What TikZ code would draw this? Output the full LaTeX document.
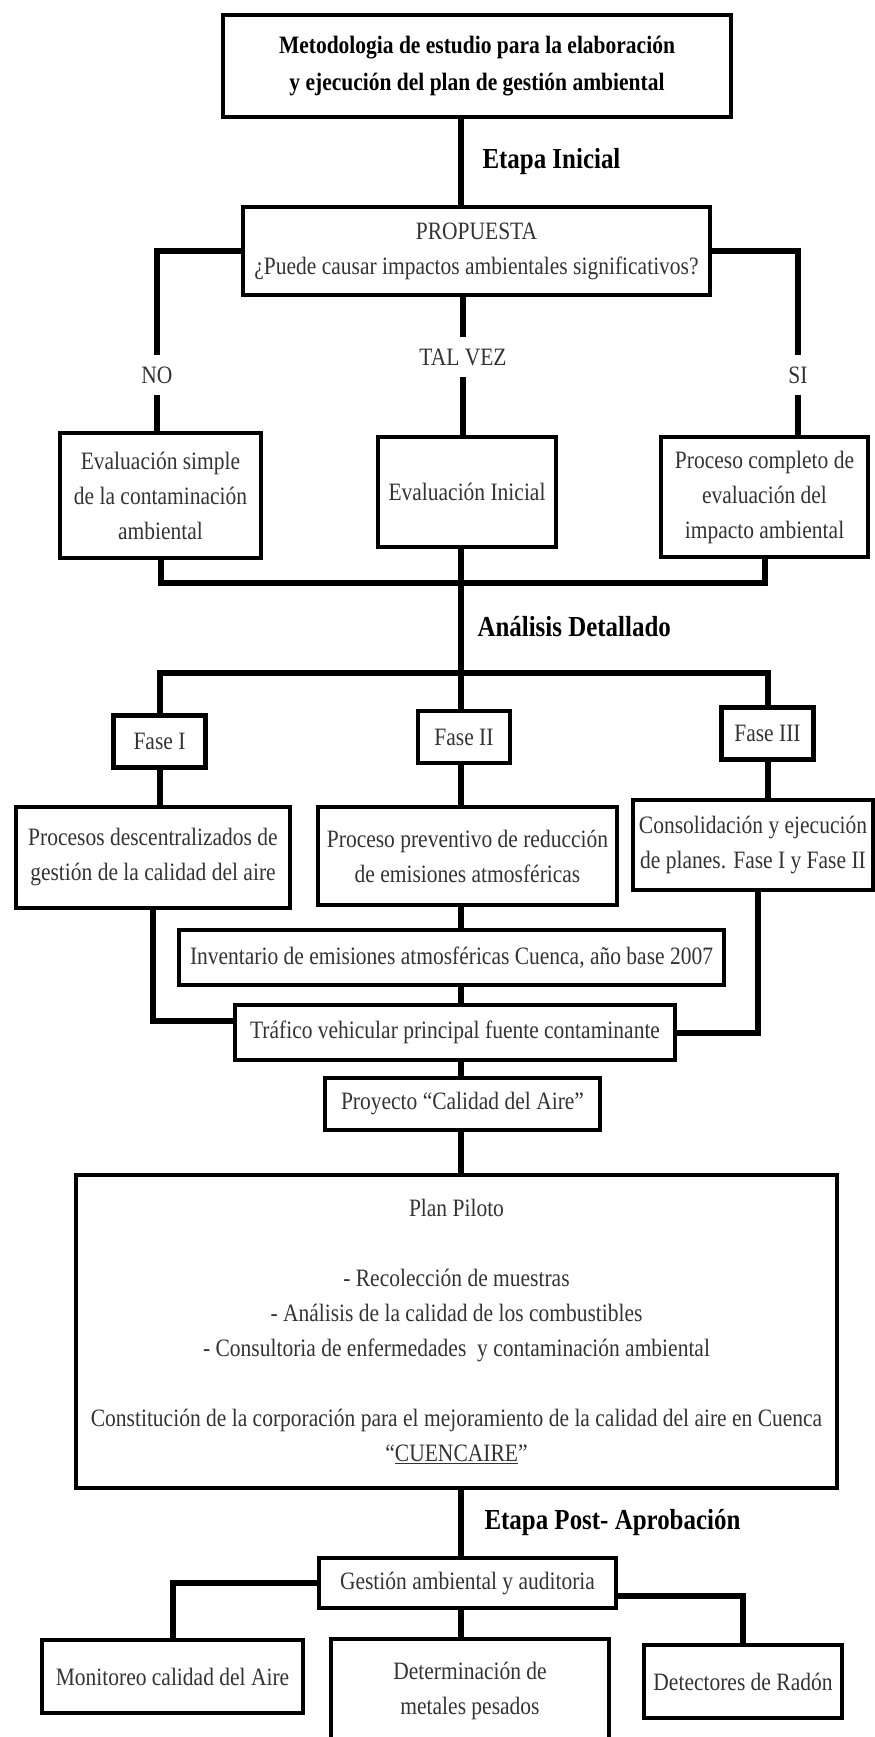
\documentclass[tikz,border=0pt]{standalone}
\usepackage{fontspec}
\setmainfont{Liberation Serif}[FakeStretch=0.86]
\usepackage{tikz}

\begin{document}
\begin{tikzpicture}[x=1pt,y=-1pt, %[x=0.03cm,y=-0.03cm]
box/.style={draw, line width=4.5pt, inner sep=0pt, align=center, text=black!80, font=\fontsize{25}{35}\selectfont},
conn/.style={line width=6pt},
etapa/.style={anchor=west, font=\fontsize{29}{35}\selectfont\bfseries},
rama/.style={inner sep=0pt, minimum height=40, text=black!80, font=\fontsize{25}{35}\selectfont}]
\useasboundingbox (0,0) rectangle (875,1737);
\clip (0,0) rectangle (875,1737);
\coordinate (axis) at (461,0);
\coordinate (coll) at (461,583);
\coordinate (fbar) at (461,673);

\node[box, text=black, font=\fontsize{25}{37}\selectfont\bfseries, minimum width=508, minimum height=102] (title) at (477,66) {Metodologia de estudio para la elaboración\\ y ejecución del plan de gestión ambiental};
\node[box, minimum width=467, minimum height=88] (prop) at (476.5,251) {PROPUESTA\\ ¿Puede causar impactos ambientales significativos?};
\draw[conn] (title.south -| axis) -- (prop.north -| axis);
\node[etapa] at (479,162) {Etapa Inicial};

\node[rama] (no) at (157,375) {NO};
\node[rama] (talvez) at (463,357) {TAL VEZ};
\node[rama] (si) at (798,375) {SI};
\node[box, minimum width=201, minimum height=125] (evsimple) at (160.5,495.5) {Evaluación simple\\ de la contaminación\\ ambiental};
\node[box, minimum width=178, minimum height=110] (evinicial) at (467,492) {Evaluación Inicial};
\node[box, minimum width=207, minimum height=120] (evcompleta) at (764.5,497) {Proceso completo de\\ evaluación del\\ impacto ambiental};
\draw[conn] (prop.west) -| (no.north);
\draw[conn] (prop.east) -| (si.north);
\draw[conn] (prop.south -| talvez) -- (talvez.north);
\draw[conn] (no.south) -- (no.south |- evsimple.north);
\draw[conn] (talvez.south) -- (talvez.south |- evinicial.north);
\draw[conn] (si.south) -- (si.south |- evcompleta.north);
\draw[conn] (evsimple.south) |- (coll) -| (evcompleta.south);
\draw[conn] (evinicial.south -| axis) -- (fbar);
\node[etapa] at (474,627) {Análisis Detallado};

\foreach \n/\x/\y/\t in {f1/159.5/741.5/Fase I, f2/464/737/Fase II, f3/767.5/733.5/Fase III} {
\node[box, minimum width=92, minimum height=52] (\n) at (\x,\y) {\t};
}
\draw[conn] (f1.north) |- (fbar) -| (f3.north);
\draw[conn] (fbar) -- (f2.north -| axis);

\node[box, minimum width=274, minimum height=101] (descentral) at (153,857.5) {Procesos descentralizados de\\ gestión de la calidad del aire};
\node[box, minimum width=299, minimum height=98] (preventivo) at (467.5,856) {Proceso preventivo de reducción\\ de emisiones atmosféricas};
\node[box, minimum width=240, minimum height=90] (consolida) at (753,845) {Consolidación y ejecución\\ de planes. Fase I y Fase II};
\node[box, minimum width=545, minimum height=55] (inventario) at (451.5,957.5) {Inventario de emisiones atmosféricas Cuenca, año base 2007};
\node[box, minimum width=440, minimum height=55] (trafico) at (455,1032.5) {Tráfico vehicular principal fuente contaminante};
\draw[conn] (f1.south) -- (f1.south |- descentral.north);
\draw[conn] (f2.south -| axis) -- (preventivo.north -| axis);
\draw[conn] (f3.south) -- (f3.south |- consolida.north);
\draw[conn] (preventivo.south -| axis) -- (inventario.north -| axis);
\draw[conn] (inventario.south -| axis) -- (trafico.north -| axis);
\draw[conn] (descentral.south) |- ([yshift=12pt]trafico.west);
\draw[conn] ([xshift=5pt]consolida.south) |- (trafico.east);

\node[box, minimum width=275, minimum height=52] (proyecto) at (462.5,1104) {Proyecto “Calidad del Aire”};
\node[box, minimum width=761, minimum height=313] (plan) at (456.5,1331.5) {Plan Piloto\\[35pt]
- Recolección de muestras\\
- Análisis de la calidad de los combustibles\\
- Consultoria de enfermedades~ y contaminación ambiental\\[35pt]
Constitución de la corporación para el mejoramiento de la calidad del aire en Cuenca\\
“\underline{CUENCAIRE}”};
\draw[conn] (trafico.south -| axis) -- (proyecto.north -| axis);
\draw[conn] (proyecto.south -| axis) -- (plan.north -| axis);

\node[box, minimum width=297, minimum height=50] (gestion) at (467.5,1583) {Gestión ambiental y auditoria};
\node[box, minimum width=261, minimum height=73] (monitoreo) at (172.5,1676.5) {Monitoreo calidad del Aire};
\node[box, minimum width=278, minimum height=104] (metales) at (470,1691) {Determinación de\\ metales pesados};
\node[box, minimum width=198, minimum height=73] (radon) at (743,1681.5) {Detectores de Radón};
\draw[conn] (plan.south -| axis) -- (gestion.north -| axis);
\node[etapa] at (481,1522) {Etapa Post- Aprobación};
\draw[conn] (gestion.west) -| (monitoreo.north);
\draw[conn] ([yshift=-13pt]gestion.east) -| (radon.north);
\draw[conn] (gestion.south -| axis) -- (metales.north -| axis);

\end{tikzpicture}
\end{document}
